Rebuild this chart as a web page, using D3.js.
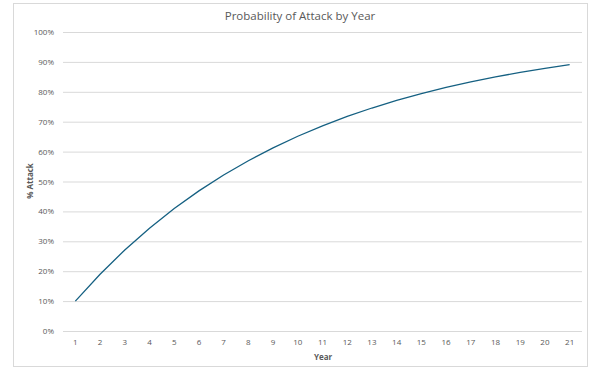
<!DOCTYPE html>
<html><head><meta charset="utf-8">
<script src="https://cdn.jsdelivr.net/npm/d3@7"></script>
<style>body{margin:0;background:#fff}svg{display:block}</style>
</head><body><svg id="c" width="595" height="370"></svg>
<script>
const years = [1,2,3,4,5,6,7,8,9,10,11,12,13,14,15,16,17,18,19,20,21];
const attackPct = [10,19,27.1,34.39,40.95,46.86,52.17,56.95,61.26,65.13,68.62,71.76,74.58,77.12,79.41,81.47,83.32,84.99,86.49,87.84,89.06];
const yTicks = [0,10,20,30,40,50,60,70,80,90,100];
const title = "Probability of Attack by Year";

const svg = d3.select("#c");
const font = "'Open Sans', 'Liberation Sans', sans-serif";
const grey = "#595959";
svg.append("rect").attr("x",13.5).attr("y",3.5).attr("width",574).attr("height",363)
  .attr("fill","#fff").attr("stroke","#d9d9d9");

const L=63, R=582, T=32, B=331;
const x = d3.scaleBand().domain(years).range([L,R]);
const y = d3.scaleLinear().domain([0,100]).range([B,T]);

const gy = svg.append("g").attr("transform",`translate(${L},0)`)
  .call(d3.axisLeft(y).tickValues(yTicks).tickSize(-(R-L)).tickPadding(9).tickFormat(d=>d+"%"));
gy.select(".domain").remove();
gy.selectAll(".tick line").attr("stroke","#d9d9d9").attr("stroke-width",1);
gy.selectAll(".tick text").attr("fill",grey).style("font-family",font).style("font-size","8px");

const gx = svg.append("g").attr("transform",`translate(0,${B})`)
  .call(d3.axisBottom(x).tickSize(0).tickPadding(8));
gx.select(".domain").remove();
gx.selectAll(".tick text").attr("fill",grey).style("font-family",font).style("font-size","8px");

const line = d3.line().x((d,i)=>x(years[i])+x.bandwidth()/2).y(d=>y(d));
svg.append("path").datum(attackPct).attr("d",line).attr("fill","none")
  .attr("stroke","#156082").attr("stroke-width",1.3);

svg.append("text").attr("x",300).attr("y",20).attr("text-anchor","middle")
  .attr("fill",grey).style("font-family",font).style("font-size","11.5px").text(title);
svg.append("text").attr("x",323).attr("y",360).attr("text-anchor","middle")
  .attr("fill",grey).style("font-family",font).style("font-size","8px").style("font-weight","bold").text("Year");
svg.append("text").attr("transform","translate(33,181) rotate(-90)").attr("text-anchor","middle")
  .attr("fill",grey).style("font-family",font).style("font-size","8px").style("font-weight","bold").text("% Attack");
</script></body></html>
